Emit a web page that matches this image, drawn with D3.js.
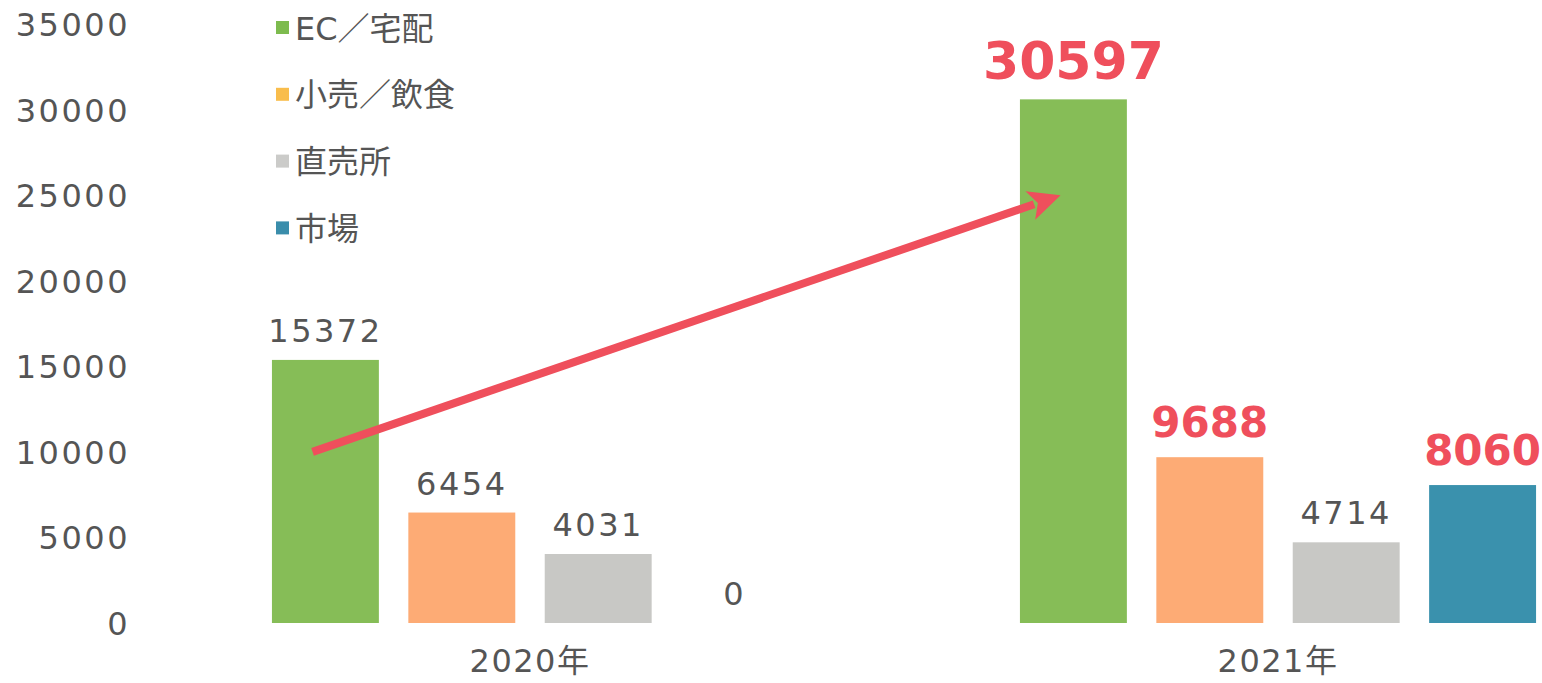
<!DOCTYPE html>
<html><head><meta charset="utf-8">
<script src="https://cdn.jsdelivr.net/npm/d3@7"></script>
<style>
body{margin:0;background:#fff;}
text{font-family:"DejaVu Sans","Noto Sans CJK JP",sans-serif;}
</style></head>
<body>
<svg id="chart" width="1542" height="683"></svg>
<script>
const years = ["2020年", "2021年"];
const series = ["EC／宅配", "小売／飲食", "直売所", "市場"];
const values2020 = [15372, 6454, 4031, 0];
const values2021 = [30597, 9688, 4714, 8060];
const yTicks = [0, 5000, 10000, 15000, 20000, 25000, 30000, 35000];
const barColors = ["#86bd57", "#fdab75", "#c8c8c5", "#3a91ad"];
const legendColors = ["#7dbb4e", "#f9bd4c", "#cbcbc9", "#3a8dab"];
const highlight2021 = [true, true, false, true];
const arrowFrom = 10000, arrowTo = 25000;

const data = [values2020, values2021];
const svg = d3.select("#chart");
const textColor = "#555";
const red = "#ef4f5c";

const y = d3.scaleLinear().domain([0, 35000]).range([623, 24]);
const x0 = d3.scaleBand().domain(years).range([156, 1652]).paddingInner(0.31).paddingOuter(0.155);
const x1 = d3.scaleBand().domain(series).range([0, x0.bandwidth()]).paddingInner(0.216).paddingOuter(0);

// y axis labels
const yAxis = d3.axisLeft(y).tickValues(yTicks).tickSize(0).tickPadding(0).tickFormat(d3.format("d"));
const ga = svg.append("g").attr("transform", "translate(130,0)").call(yAxis);
ga.select(".domain").remove();
ga.selectAll("text").attr("font-size", 32).attr("fill", textColor)
  .attr("letter-spacing", 2.5).attr("font-family", null).attr("dy", "0.36em");

// x axis labels
const xAxis = d3.axisBottom(x0).tickSize(0).tickPadding(0);
const gx = svg.append("g").attr("transform", "translate(0,647)").call(xAxis);
gx.select(".domain").remove();
gx.selectAll("text").attr("font-size", 32).attr("fill", textColor).attr("font-family", null)
  .attr("dy", "0.78em").attr("letter-spacing", 1.5);

// bars
data.forEach((vals, gi) => {
  const g = svg.append("g").attr("transform", `translate(${x0(years[gi])},0)`);
  const hl = i => gi === 1 && highlight2021[i];
  g.selectAll("rect").data(vals).join("rect")
    .attr("x", (d, i) => x1(series[i]))
    .attr("width", x1.bandwidth())
    .attr("y", d => y(d))
    .attr("height", d => y(0) - y(d))
    .attr("fill", (d, i) => barColors[i]);
  g.selectAll("text").data(vals).join("text")
    .attr("x", (d, i) => x1(series[i]) + x1.bandwidth() / 2)
    .attr("y", (d, i) => y(d) - (hl(i) ? 20 : 18))
    .attr("text-anchor", "middle")
    .attr("fill", (d, i) => hl(i) ? red : textColor)
    .attr("font-weight", (d, i) => hl(i) ? "bold" : "normal")
    .attr("font-size", (d, i) => hl(i) ? (i === 0 ? 52 : 42) : 32)
    .attr("letter-spacing", (d, i) => hl(i) ? 0 : 2.5)
    .text(d => d);
});

// legend
const leg = svg.append("g").attr("transform", "translate(276,28)");
series.forEach((s, i) => {
  const row = leg.append("g").attr("transform", `translate(0,${i * 66.8})`);
  row.append("rect").attr("x", 0).attr("y", -7).attr("width", 13).attr("height", 13).attr("fill", legendColors[i]);
  row.append("text").attr("x", 19).attr("y", 0).attr("dy", "0.36em").attr("font-size", 32)
    .attr("fill", textColor).text(s);
});

// arrow
const ecX = (yr) => x0(yr) + x1(series[0]) + x1.bandwidth() * 0.38;
const x_a = ecX(years[0]), y_a = y(arrowFrom);
const x_b = ecX(years[1]), y_b = y(arrowTo);
const ang = Math.atan2(y_b - y_a, x_b - x_a);
const headLen = 32, headW = 15;
const bx = x_b - headLen * Math.cos(ang), by = y_b - headLen * Math.sin(ang);
svg.append("line").attr("x1", x_a).attr("y1", y_a).attr("x2", bx + 4*Math.cos(ang)).attr("y2", by + 4*Math.sin(ang))
  .attr("stroke", red).attr("stroke-width", 8);
const px = -Math.sin(ang), py = Math.cos(ang);
svg.append("path")
  .attr("d", `M${x_b},${y_b}L${bx + px * headW},${by + py * headW}L${bx + 8*Math.cos(ang)},${by + 8*Math.sin(ang)}L${bx - px * headW},${by - py * headW}Z`)
  .attr("fill", red);
</script>
</body></html>
